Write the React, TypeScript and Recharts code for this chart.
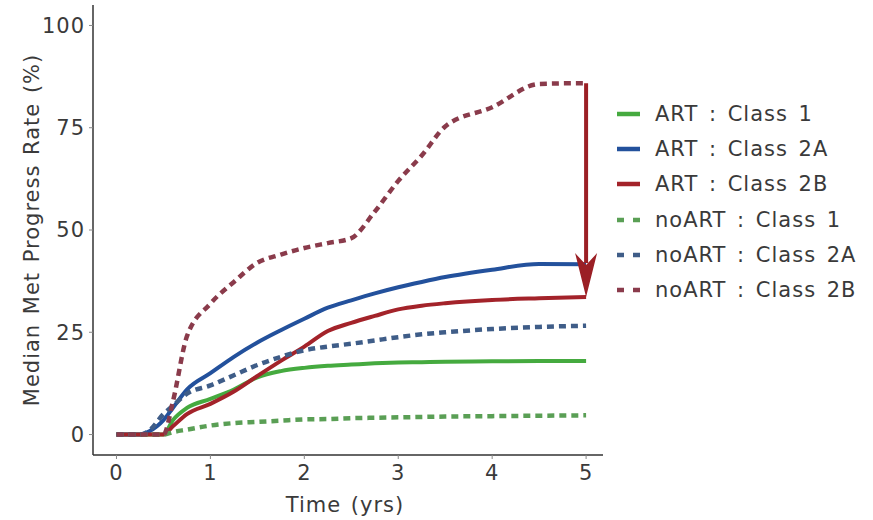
import { LineChart, Line, XAxis, YAxis, Legend, ReferenceLine } from 'recharts';

const FONT = '"DejaVu Sans", Verdana, sans-serif';
const INK = '#3a3a3a';

// time in years
const times = [0, 0.25, 0.35, 0.5, 0.6, 0.75, 1, 1.25, 1.5, 1.75, 2, 2.25, 2.5, 2.75, 3, 3.25, 3.5, 4, 4.5, 5];

const artClass1 = [0, 0, 0, 0, 3.5, 6.5, 8.7, 11, 14, 15.5, 16.3, 16.8, 17.1, 17.4, 17.6, 17.7, 17.8, 17.9, 18, 18];
const artClass2A = [0, 0, 0.8, 3.5, 6.5, 11, 15, 19, 22.5, 25.5, 28.3, 31, 32.8, 34.5, 36, 37.3, 38.5, 40.3, 41.7, 41.6];
const artClass2B = [0, 0, 0, 0, 2, 5, 7.5, 10.5, 14.3, 18, 21.5, 25.3, 27.3, 29, 30.6, 31.5, 32.1, 32.9, 33.3, 33.6];
const noArtClass1 = [0, 0, 0, 0, 0.6, 1.2, 2.2, 2.8, 3.1, 3.4, 3.7, 3.8, 4, 4.1, 4.2, 4.3, 4.4, 4.5, 4.6, 4.7];
const noArtClass2A = [0, 0, 1, 5, 7, 10, 12, 14.5, 17, 19, 20.6, 21.5, 22.2, 23, 23.8, 24.5, 25, 25.8, 26.3, 26.6];
const noArtClass2B = [0, 0, 0, 0, 8, 24, 32, 37.3, 42, 44, 45.6, 46.8, 48, 54.5, 62, 68.2, 75.3, 80, 85.7, 85.9];

const xTicks = [0, 1, 2, 3, 4, 5];
const yTicks = [0, 25, 50, 75, 100];

// arrow from the noART 2B end down to the ART 2B end
const arrowFrom = { x: 5, y: 85.9 };
const arrowTo = { x: 5, y: 33.6 };

const data = times.map((t, i) => ({
  t,
  art1: artClass1[i],
  art2A: artClass2A[i],
  art2B: artClass2B[i],
  noArt1: noArtClass1[i],
  noArt2A: noArtClass2A[i],
  noArt2B: noArtClass2B[i],
}));

const series = [
  { key: 'art1', name: 'ART : Class 1', color: '#45aa3f', dashed: false },
  { key: 'art2A', name: 'ART : Class 2A', color: '#23519c', dashed: false },
  { key: 'art2B', name: 'ART : Class 2B', color: '#a3232a', dashed: false },
  { key: 'noArt1', name: 'noART : Class 1', color: '#5a9f55', dashed: true },
  { key: 'noArt2A', name: 'noART : Class 2A', color: '#3f5d88', dashed: true },
  { key: 'noArt2B', name: 'noART : Class 2B', color: '#8a3b4b', dashed: true },
];

const textStyle = { letterSpacing: 1, wordSpacing: 2 };

function LegendBox() {
  return (
    <div style={{ fontFamily: FONT, fontSize: 21, color: INK, letterSpacing: 1, wordSpacing: 3 }}>
      {series.map((s) => (
        <div key={s.key} style={{ display: 'flex', alignItems: 'center', height: 35.3, whiteSpace: 'pre' }}>
          <svg width={23} height={8}>
            <line
              x1={0}
              y1={4}
              x2={23}
              y2={4}
              stroke={s.color}
              strokeWidth={4.5}
              strokeDasharray={s.dashed ? '7 9' : undefined}
            />
          </svg>
          <span style={{ marginLeft: 15 }}>{s.name}</span>
        </div>
      ))}
    </div>
  );
}

function Arrow(p: any) {
  const { x1, y1, x2, y2 } = p;
  const headH = 44;
  const headW = 11;
  const c = '#9b1f25';
  return (
    <g>
      <line x1={x1} y1={y1} x2={x2} y2={y2 - headH + 10} stroke={c} strokeWidth={4} />
      <polygon
        points={`${x2},${y2} ${x2 - headW},${y2 - headH} ${x2},${y2 - headH + 12} ${x2 + headW},${y2 - headH}`}
        fill={c}
      />
    </g>
  );
}

export default function App() {
  return (
    <div>
      <style>{'body{margin:0}'}</style>
      <LineChart
        width={873}
        height={520}
        data={data}
        margin={{ top: 5, right: 270, bottom: 0, left: 0 }}
        style={{ fontFamily: FONT }}
      >
        <XAxis
          type="number"
          dataKey="t"
          domain={[-0.25, 5.18]}
          ticks={xTicks}
          allowDataOverflow
          height={65}
          tickSize={4}
          tickMargin={6}
          axisLine={{ stroke: '#333', strokeWidth: 1.5 }}
          tickLine={{ stroke: '#888' }}
          tick={{ fill: INK, fontSize: 21, letterSpacing: 1 }}
          label={{
            value: 'Time (yrs)',
            position: 'insideBottom',
            offset: 8,
            fill: INK,
            fontSize: 21,
            dx: -3,
            style: textStyle,
          }}
        />
        <YAxis
          type="number"
          domain={[-5, 105]}
          ticks={yTicks}
          allowDataOverflow
          width={93}
          tickSize={4}
          tickMargin={4}
          axisLine={{ stroke: '#333', strokeWidth: 1.5 }}
          tickLine={{ stroke: '#888' }}
          tick={{ fill: INK, fontSize: 21, letterSpacing: 1 }}
          label={{
            value: 'Median Met Progress Rate (%)',
            angle: -90,
            position: 'insideLeft',
            offset: 32,
            fill: INK,
            fontSize: 21,
            style: { textAnchor: 'middle', ...textStyle },
          }}
        />
        {series.map((s) => (
          <Line
            key={s.key}
            type="monotone"
            dataKey={s.key}
            name={s.name}
            stroke={s.color}
            strokeWidth={s.dashed ? 4.5 : 4}
            strokeDasharray={s.dashed ? '7 5' : undefined}
            dot={false}
            activeDot={false}
            isAnimationActive={false}
          />
        ))}
        <ReferenceLine segment={[arrowFrom, arrowTo]} shape={Arrow} />
        <Legend
          layout="horizontal"
          verticalAlign="middle"
          align="center"
          content={<LegendBox />}
          wrapperStyle={{ left: 617, top: 96, width: 256, height: 220 }}
        />
      </LineChart>
    </div>
  );
}
